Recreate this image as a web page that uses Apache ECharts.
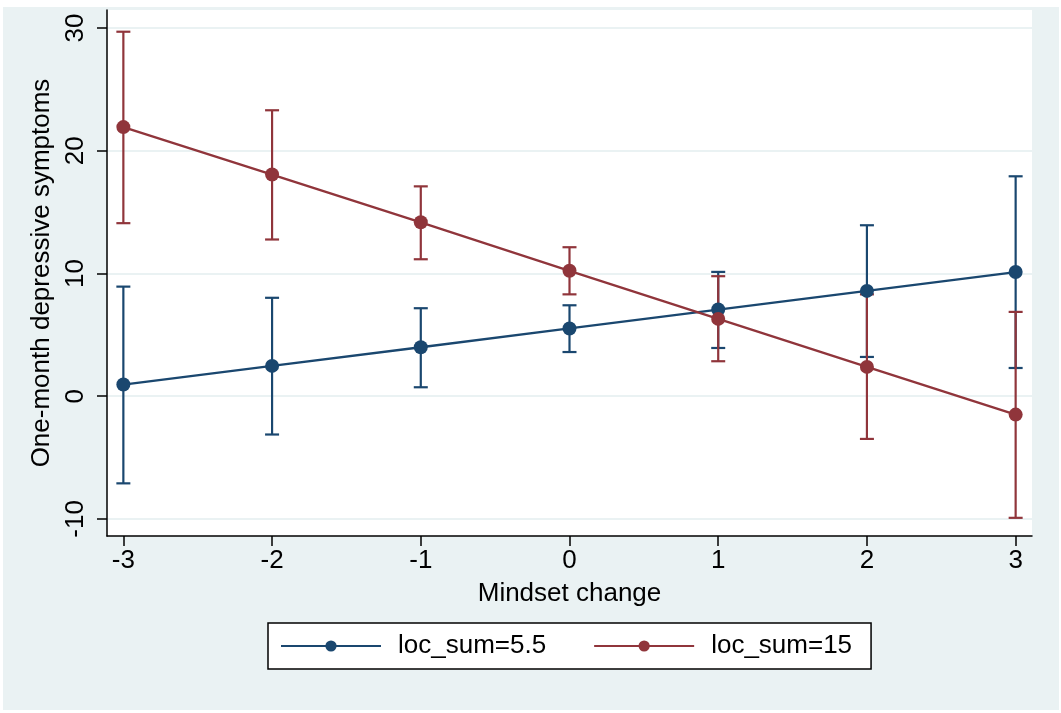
<!DOCTYPE html>
<html>
<head>
<meta charset="utf-8">
<script src="https://cdn.jsdelivr.net/npm/echarts@6/dist/echarts.min.js"></script>
<style>
html,body{margin:0;padding:0;background:#fff;}
#bg{position:absolute;left:3px;top:7px;width:1056px;height:703px;background:#eaf2f3;}
#chart{position:absolute;left:0;top:0;width:1061px;height:713px;}
</style>
</head>
<body>
<div id="bg"></div>
<div id="chart"></div>
<script>
const mindset = [-3, -2, -1, 0, 1, 2, 3];
const xTicks = [-3, -2, -1, 0, 1, 2, 3];
const yTicks = [-10, 0, 10, 20, 30];

const lowMean = [0.95, 2.47, 3.99, 5.52, 7.06, 8.58, 10.12];
const lowLo   = [-7.1, -3.12, 0.73, 3.6, 3.93, 3.2, 2.3];
const lowHi   = [8.93, 8.02, 7.17, 7.41, 10.13, 13.93, 17.92];

const highMean = [21.93, 18.06, 14.17, 10.22, 6.3, 2.39, -1.5];
const highLo   = [14.1, 12.77, 11.16, 8.3, 2.85, -3.48, -9.91];
const highHi   = [29.7, 23.3, 17.1, 12.14, 9.78, 8.3, 6.87];

const BLUE = '#1a476f';
const RED = '#90353b';
const FONT = '"Liberation Sans", Arial, Helvetica, sans-serif';

function errData(lo, hi) {
  return mindset.map((x, i) => [x, lo[i], hi[i]]);
}
function pts(vals) {
  return mindset.map((x, i) => [x, vals[i]]);
}
function errRender(color) {
  return function (params, api) {
    const x = api.value(0);
    const pLo = api.coord([x, api.value(1)]);
    const pHi = api.coord([x, api.value(2)]);
    const hw = 7;
    const style = { stroke: color, lineWidth: 2.2 };
    return {
      type: 'group',
      children: [
        { type: 'line', shape: { x1: pLo[0], y1: pLo[1], x2: pHi[0], y2: pHi[1] }, style: style },
        { type: 'line', shape: { x1: pLo[0] - hw, y1: pLo[1], x2: pLo[0] + hw, y2: pLo[1] }, style: style },
        { type: 'line', shape: { x1: pHi[0] - hw, y1: pHi[1], x2: pHi[0] + hw, y2: pHi[1] }, style: style }
      ]
    };
  };
}

const chart = echarts.init(document.getElementById('chart'), null, { renderer: 'canvas' });
chart.setOption({
  animation: false,
  textStyle: { fontFamily: FONT },
  grid: {
    left: 107, right: 29, top: 10, bottom: 177,
    show: true, backgroundColor: '#ffffff', borderWidth: 0
  },
  xAxis: {
    type: 'value',
    min: -3.11, max: 3.11,
    name: 'Mindset change',
    nameLocation: 'middle',
    nameGap: 45,
    nameTextStyle: { fontSize: 26, color: '#000', fontFamily: FONT },
    axisLine: { show: true, onZero: false, lineStyle: { color: '#000', width: 1.5 } },
    axisTick: { show: true, length: 10, customValues: xTicks, lineStyle: { color: '#000', width: 1.5 } },
    axisLabel: { customValues: xTicks, fontSize: 26, color: '#000', margin: 12, fontFamily: FONT },
    splitLine: { show: false }
  },
  yAxis: {
    type: 'value',
    min: -11.39, max: 31.47,
    name: 'One-month depressive symptoms',
    nameLocation: 'middle',
    nameGap: 40,
    nameTextStyle: { fontSize: 26, color: '#000', fontFamily: FONT },
    axisLine: { show: true, onZero: false, lineStyle: { color: '#000', width: 1.5 } },
    axisTick: { show: true, length: 10, customValues: yTicks, lineStyle: { color: '#000', width: 1.5 } },
    axisLabel: { customValues: yTicks, rotate: 90, fontSize: 26, color: '#000', margin: 18, fontFamily: FONT },
    splitLine: { show: true, lineStyle: { color: '#eaf2f3', width: 2 } }
  },
  legend: {
    left: 268, top: 623,
    orient: 'horizontal',
    data: ['loc_sum=5.5', 'loc_sum=15'],
    backgroundColor: '#ffffff',
    borderColor: '#000', borderWidth: 1.5, borderRadius: 0,
    padding: [10, 19, 10, 12],
    itemGap: 47,
    itemWidth: 100, itemHeight: 14,
    textStyle: { fontSize: 26, color: '#000', fontFamily: FONT, padding: [0, 0, 0, 12] }
  },
  series: [
    { name: 'ci_low', type: 'custom', renderItem: errRender(BLUE), data: errData(lowLo, lowHi), z: 1, silent: true },
    { name: 'ci_high', type: 'custom', renderItem: errRender(RED), data: errData(highLo, highHi), z: 1, silent: true },
    {
      name: 'loc_sum=5.5', type: 'line', data: pts(lowMean), z: 3,
      symbol: 'circle', symbolSize: 14, showAllSymbol: true,
      lineStyle: { color: BLUE, width: 2.3 }, itemStyle: { color: BLUE }
    },
    {
      name: 'loc_sum=15', type: 'line', data: pts(highMean), z: 4,
      symbol: 'circle', symbolSize: 14, showAllSymbol: true,
      lineStyle: { color: RED, width: 2.3 }, itemStyle: { color: RED }
    }
  ]
});
</script>
</body>
</html>
